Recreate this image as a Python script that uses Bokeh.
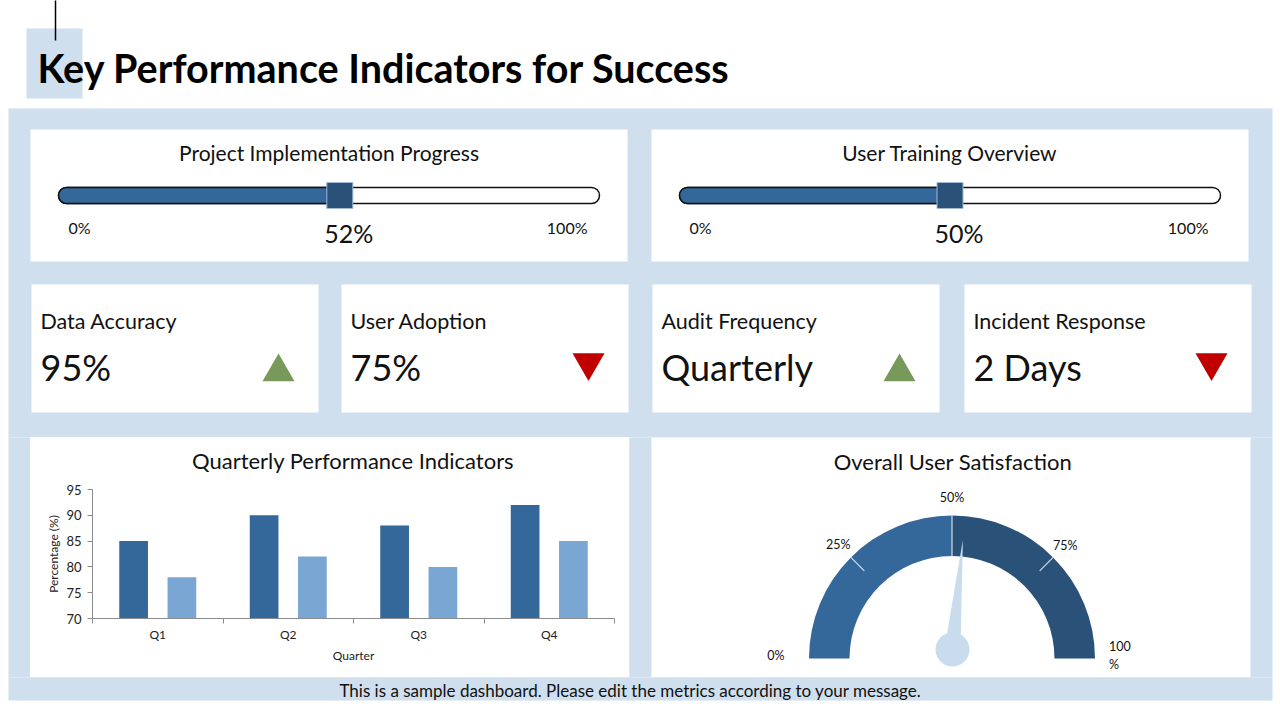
import numpy as np
from bokeh.plotting import figure
from bokeh.layouts import column, row
from bokeh.models import Range1d, FixedTicker
from bokeh.core.properties import value
from bokeh.embed import file_html
from bokeh.resources import INLINE

# ---------------- data ----------------
TITLE = "Key Performance Indicators for Success"
progress_titles = ["Project Implementation Progress", "User Training Overview"]
progress_values = [52, 50]
progress_min_label = "0%"
progress_max_label = "100%"
kpi_labels = ["Data Accuracy", "User Adoption", "Audit Frequency", "Incident Response"]
kpi_values = ["95%", "75%", "Quarterly", "2 Days"]
kpi_trends = ["up", "down", "up", "down"]
bar_title = "Quarterly Performance Indicators"
quarters = ["Q1", "Q2", "Q3", "Q4"]
series_a = [85, 90, 88, 92]
series_b = [78, 82, 80, 85]
y_ticks = [70, 75, 80, 85, 90, 95]
gauge_title = "Overall User Satisfaction"
gauge_sections = [0, 50, 100]
gauge_ticks = [0, 25, 50, 75, 100]
gauge_labels = ["0%", "25%", "50%", "75%", "100\n%"]
gauge_value = 53
FOOTER = "This is a sample dashboard. Please edit the metrics according to your message."

# ---------------- style ----------------
W, H = 1280, 720
FONT = "Lato"
PANEL = "#cfdfee"
BLUE = "#34679a"
DARK = "#2a5279"
LIGHT = "#79a6d3"
NEEDLE = "#c9dcee"
TXT = "#111111"
UP = "#77995a"
DOWN = "#c00000"


def Y(y):
    return H - y


def canvas(x0, x1, y0, y1):
    p = figure(width=x1 - x0, height=y1 - y0, x_range=Range1d(x0, x1),
               y_range=Range1d(Y(y1), Y(y0)), output_backend="svg",
               toolbar_location=None, min_border=0,
               x_axis_location=None, y_axis_location=None)
    p.xgrid.visible = False
    p.ygrid.visible = False
    p.outline_line_color = None
    p.background_fill_color = "white"
    p.border_fill_color = "white"
    return p


def box(p, l, r, t, b, color):
    p.quad(left=[l], right=[r], top=[Y(t)], bottom=[Y(b)],
           fill_color=color, line_color=None)


def txt(p, x, y, s, size, align="left", color=TXT, bold=False):
    p.text(x=[x], y=[Y(y)], text=[s], text_font=value(FONT),
           text_font_size=f"{size}px", text_align=align,
           text_baseline="middle", text_color=color,
           text_font_style="bold" if bold else "normal")


# ---------------- top part ----------------
top = canvas(0, 1280, 0, 437)
box(top, 26, 82, 28, 98, PANEL)
top.segment(x0=[55], y0=[Y(-5)], x1=[55], y1=[Y(40)], line_color="black", line_width=1.5)
txt(top, 37, 67, TITLE, 39.5, color="black", bold=True)
box(top, 8, 1272, 108, 450, PANEL)

prog_card_x = [30, 651]
for cx, ttl, v in zip(prog_card_x, progress_titles, progress_values):
    box(top, cx, cx + 597, 129, 261, "white")
    txt(top, cx + 298.5, 152, ttl, 21, align="center")
    sub = top.subplot(x_source=Range1d(0, 100), y_source=Range1d(0, 1),
                      x_target=Range1d(cx + 28, cx + 569),
                      y_target=Range1d(Y(203), Y(187)))
    sub.quad(left=[0], right=[100], bottom=[0], top=[1], fill_color="white",
             line_color="#111111", line_width=1.5, border_radius=8)
    sub.quad(left=[0], right=[v], bottom=[0], top=[1], fill_color=BLUE,
             line_color="#111111", line_width=1.5, border_radius=(8, 0, 0, 8))
    sub.rect(x=[v], y=[0.5], width=26, height=26, width_units="screen",
             height_units="screen", fill_color=DARK, line_color="#9dbad6", line_width=1)
    sub.text(x=[v], y=[0], text=[f"{v}%"], x_offset=9, y_offset=29,
             text_font=value(FONT), text_font_size="25px", text_align="center",
             text_baseline="middle", text_color=TXT)
    txt(top, cx + 38, 227, progress_min_label, 16)
    txt(top, cx + 557, 227, progress_max_label, 16, align="right")

kpi_card_x = [31, 341, 652, 964]
for kx, lab, val, tr in zip(kpi_card_x, kpi_labels, kpi_values, kpi_trends):
    box(top, kx, kx + 287, 284, 412, "white")
    txt(top, kx + 9, 320, lab, 21.5)
    txt(top, kx + 9, 366, val, 36)
    if tr == "up":
        top.scatter(x=[kx + 247], y=[Y(371.5)], marker="triangle", size=32,
                    fill_color=UP, line_color=None)
    else:
        top.scatter(x=[kx + 247], y=[Y(362)], marker="inverted_triangle", size=32,
                    fill_color=DOWN, line_color=None)

# ---------------- middle row ----------------
left = canvas(0, 30, 437, 677)
box(left, 8, 40, 420, 690, PANEL)

btitle = canvas(30, 629, 437, 480)
txt(btitle, 329, 460, bar_title, 22, align="center")

bar = figure(width=599, height=197, x_range=Range1d(0, len(quarters)),
             y_range=Range1d(y_ticks[0], y_ticks[-1]), output_backend="svg",
             toolbar_location=None, min_border_left=62, min_border_right=15,
             min_border_top=9, min_border_bottom=59)
idx = np.arange(len(quarters))
bar.vbar(x=idx + 0.5 - 0.185, top=series_a, bottom=y_ticks[0], width=0.22,
         fill_color=BLUE, line_color=None)
bar.vbar(x=idx + 0.5 + 0.185, top=series_b, bottom=y_ticks[0], width=0.22,
         fill_color=LIGHT, line_color=None)
bar.xgrid.visible = False
bar.ygrid.visible = False
bar.outline_line_color = None
bar.background_fill_color = "white"
bar.border_fill_color = "white"
xa = bar.xaxis[0]
xa.ticker = FixedTicker(ticks=list(idx + 0.5), minor_ticks=list(range(len(quarters) + 1)))
xa.major_label_overrides = {float(i + 0.5): q for i, q in enumerate(quarters)}
xa.major_tick_line_color = None
xa.major_tick_out = 0
xa.major_tick_in = 0
xa.minor_tick_out = 5
xa.minor_tick_in = 0
xa.minor_tick_line_color = "#8c8c8c"
xa.axis_line_color = "#8c8c8c"
xa.major_label_standoff = 3
xa.major_label_text_font = FONT
xa.major_label_text_font_size = "12px"
xa.major_label_text_color = "#222222"
xa.axis_label = "Quarter"
xa.axis_label_text_font = FONT
xa.axis_label_text_font_size = "12px"
xa.axis_label_text_font_style = "normal"
xa.axis_label_text_color = "#222222"
xa.axis_label_standoff = 3
ya = bar.yaxis[0]
ya.ticker = FixedTicker(ticks=y_ticks)
ya.major_tick_out = 5
ya.major_tick_in = 0
ya.minor_tick_line_color = None
ya.major_tick_line_color = "#8c8c8c"
ya.axis_line_color = "#8c8c8c"
ya.major_label_standoff = 6
ya.major_label_text_font = FONT
ya.major_label_text_font_size = "13px"
ya.major_label_text_color = "#222222"
ya.axis_label = "Percentage (%)"
ya.axis_label_text_font = FONT
ya.axis_label_text_font_size = "12px"
ya.axis_label_text_font_style = "normal"
ya.axis_label_text_color = "#222222"
ya.axis_label_standoff = 2

right = canvas(629, 1280, 437, 677)
box(right, 610, 1272, 420, 690, PANEL)
box(right, 651, 1250, 420, 677, "white")
txt(right, 952.5, 461, gauge_title, 22, align="center")

GX, GY = 951.5, Y(658)
R_OUT, R_IN = 143, 102.5


def ang(v):
    return np.pi * (1 - v / 100.0)


sec_colors = [BLUE, DARK]
for a, b, c in zip(gauge_sections[:-1], gauge_sections[1:], sec_colors):
    right.annular_wedge(x=[GX], y=[GY], inner_radius=R_IN, outer_radius=R_OUT,
                        start_angle=ang(b), end_angle=ang(a),
                        fill_color=c, line_color=None)
# tick marks on the ring
for t in gauge_ticks[1:-1]:
    th = ang(t)
    r0 = R_IN if t == 50 else 124
    right.segment(x0=[GX + r0 * np.cos(th)], y0=[GY + r0 * np.sin(th)],
                  x1=[GX + R_OUT * np.cos(th)], y1=[GY + R_OUT * np.sin(th)],
                  line_color="white", line_width=1.2, line_alpha=0.8)
# labels
label_r = [176, 161, 161, 160, 169]
for t, lab, rr in zip(gauge_ticks, gauge_labels, label_r):
    th = ang(t)
    lx = GX + rr * np.cos(th)
    ly = GY + rr * np.sin(th)
    if t == 100:
        right.text(x=[GX + 157], y=[Y(655)], text=[lab], text_font=value(FONT),
                   text_font_size="12.5px", text_align="left", text_baseline="middle",
                   text_color=TXT, text_line_height=1.2)
    elif t == 0:
        right.text(x=[lx], y=[Y(655)], text=[lab], text_font=value(FONT),
                   text_font_size="12.5px", text_align="center", text_baseline="middle",
                   text_color=TXT)
    else:
        right.text(x=[lx], y=[ly], text=[lab], text_font=value(FONT),
                   text_font_size="12.5px", text_align="center", text_baseline="middle",
                   text_color=TXT)
# needle
HX, HY = 952, Y(649)
th = ang(gauge_value)
tip = (HX + 110 * np.cos(th), HY + 110 * np.sin(th))
nx, ny = -np.sin(th), np.cos(th)
right.patch(x=[HX + 8 * nx, tip[0], HX - 8 * nx], y=[HY + 8 * ny, tip[1], HY - 8 * ny],
            fill_color=NEEDLE, line_color=None)
right.scatter(x=[HX], y=[HY], size=34, marker="circle", fill_color=NEEDLE, line_color=None)

# ---------------- bottom ----------------
bottom = canvas(0, 1280, 677, 720)
box(bottom, 8, 1272, 660, 700, PANEL)
txt(bottom, 630, 690, FOOTER, 17, align="center")

# page background behind the figure seams: panel colour only inside the panel area
page_bg = (
    "linear-gradient(to bottom, #ffffff 0px, #ffffff 108px, rgba(255,255,255,0) 108px, "
    "rgba(255,255,255,0) 700px, #ffffff 700px, #ffffff 720px), "
    f"linear-gradient(to right, #ffffff 0px, #ffffff 8px, {PANEL} 8px, {PANEL} 1272px, "
    "#ffffff 1272px, #ffffff 1280px)"
)
bar_card = column(btitle, bar, styles={"background-color": "white"})
mid = row(left, bar_card, right)
layout = column(top, mid, bottom, styles={"background-image": page_bg})

open("out.html", "w").write(file_html(layout, INLINE))
